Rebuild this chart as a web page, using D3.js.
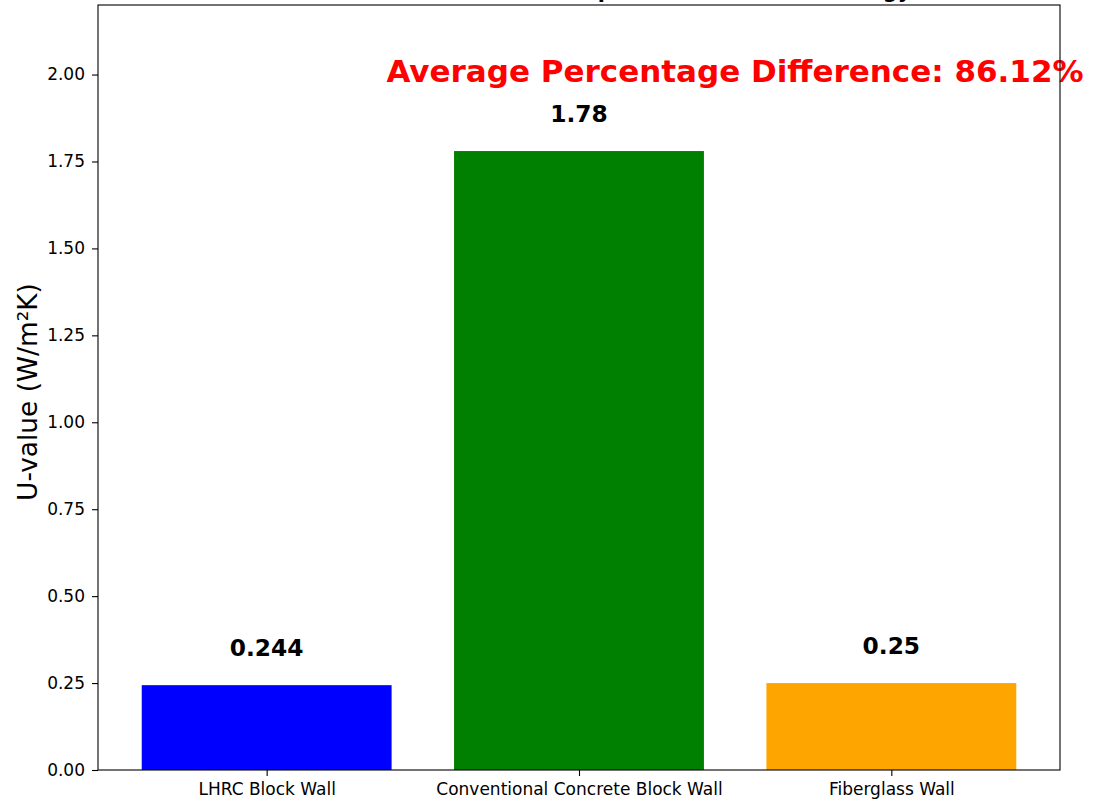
<!DOCTYPE html>
<html>
<head>
<meta charset="utf-8">
<script src="https://cdn.jsdelivr.net/npm/d3@7/dist/d3.min.js"></script>
<style>
  html, body { margin: 0; padding: 0; background: #fff; }
  svg { display: block; font-family: "DejaVu Sans", sans-serif; }
</style>
</head>
<body>
<svg id="chart" width="1095" height="801"></svg>
<script>
// Wall types and their measured U-values (W/m²K)
const categories = ["LHRC Block Wall", "Conventional Concrete Block Wall", "Fiberglass Wall"];
const uValues = [0.244, 1.78, 0.25];
const valueLabels = ["0.244", "1.78", "0.25"];
const barColors = ["#0000ff", "#008000", "#ffa500"];
const yTicks = [0, 0.25, 0.5, 0.75, 1.0, 1.25, 1.5, 1.75, 2.0];
const avgDiffText = "Average Percentage Difference: 86.12%";
const titleText = "U-value Comparison of Wall Technology";

const svg = d3.select("#chart");
const plot = { left: 98, right: 1060, top: 5, bottom: 770 };

// bar positions 0..n-1, bar width 0.8, 5% margins like a default bar plot
const barWidth = 0.8;
const x = d3.scaleLinear().domain([-0.54, 2.54]).range([plot.left, plot.right]);
const y = d3.scaleLinear().domain([0, 2.2]).range([plot.bottom, plot.top]);

// title, placed high so that it runs off the top of the figure
svg.append("text")
  .attr("x", 451)
  .attr("y", -2)
  .attr("font-size", 20.7)
  .attr("font-weight", "bold")
  .attr("fill", "#000")
  .text(titleText);

// bars
svg.append("g").selectAll("rect")
  .data(uValues)
  .join("rect")
  .attr("x", (d, i) => x(i - barWidth / 2))
  .attr("width", (d, i) => x(i + barWidth / 2) - x(i - barWidth / 2))
  .attr("y", d => y(d))
  .attr("height", d => y(0) - y(d))
  .attr("fill", (d, i) => barColors[i]);

// value labels over bars
svg.append("g").selectAll("text")
  .data(uValues)
  .join("text")
  .attr("x", (d, i) => x(i))
  .attr("y", d => y(d) - 29)
  .attr("text-anchor", "middle")
  .attr("font-size", 23.3)
  .attr("font-weight", "bold")
  .attr("fill", "#000")
  .text((d, i) => valueLabels[i]);

// average difference annotation
svg.append("text")
  .attr("x", 735)
  .attr("y", 82)
  .attr("text-anchor", "middle")
  .attr("font-size", 31)
  .attr("font-weight", "bold")
  .attr("fill", "#ff0000")
  .text(avgDiffText);

// y axis
const yAxis = d3.axisLeft(y)
  .tickValues(yTicks)
  .tickFormat(d3.format(".2f"))
  .tickSize(6)
  .tickPadding(7);
const gy = svg.append("g").attr("transform", `translate(${plot.left},0)`).call(yAxis);
gy.select(".domain").remove();
gy.selectAll("text").attr("font-size", 17).attr("font-family", "DejaVu Sans").attr("fill", "#000");
gy.selectAll("line").attr("stroke", "#000").attr("stroke-width", 1.1);

// x axis
const xAxis = d3.axisBottom(x)
  .tickValues(d3.range(categories.length))
  .tickFormat(i => categories[i])
  .tickSize(6)
  .tickPadding(7);
const gx = svg.append("g").attr("transform", `translate(0,${plot.bottom})`).call(xAxis);
gx.select(".domain").remove();
gx.selectAll("text").attr("font-size", 17).attr("font-family", "DejaVu Sans").attr("fill", "#000");
gx.selectAll("line").attr("stroke", "#000").attr("stroke-width", 1.1);

// y axis label
svg.append("text")
  .attr("transform", `translate(37,392) rotate(-90)`)
  .attr("text-anchor", "middle")
  .attr("font-size", 26.4)
  .attr("fill", "#000")
  .text("U-value (W/m²K)");

// frame around the plot area
svg.append("rect")
  .attr("x", plot.left)
  .attr("y", plot.top)
  .attr("width", plot.right - plot.left)
  .attr("height", plot.bottom - plot.top)
  .attr("fill", "none")
  .attr("stroke", "#000")
  .attr("stroke-width", 1.1);
</script>
</body>
</html>
